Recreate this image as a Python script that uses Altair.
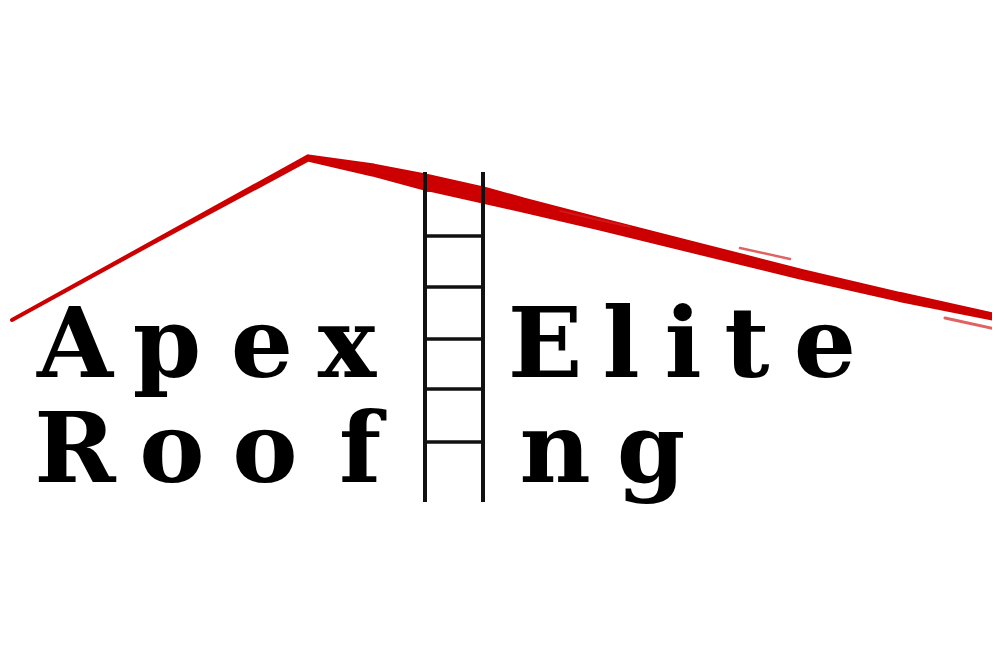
import pandas as pd
import altair as alt

# logo geometry, in page pixels (x right, y down)
roof_x = [12, 150, 308, 373, 425, 483, 523, 600, 700, 800, 900, 1000]
roof_y = [320, 244, 158, 170, 182, 195, 205, 224, 249, 274, 297, 318]
roof_w = [4, 4.5, 7, 13, 17, 17, 15, 13, 12, 11, 10, 8]

# loose brush strokes beside the main roof line
fringe_id = ["a", "a", "b", "b", "c", "c"]
fringe_x = [560, 630, 740, 790, 945, 1000]
fringe_y = [211, 227, 248, 259, 318, 330]
fringe_w = [2, 2, 2.5, 2.5, 3, 3]

rail_x = [425, 483]
rail_top, rail_bottom = 172, 502
rung_y = [190, 236, 287, 339, 389, 442]

row1_letters = list("Apex") + list("Elite")
row1_x = [75, 167, 262, 347, 545, 621, 683, 747, 825]
row2_letters = list("Roof") + list("ng")
row2_x = [75, 172, 265, 360, 555, 651]
baselines = [377, 482]

W, H = 984, 651
X = alt.X("x:Q", scale=alt.Scale(domain=[8, 8 + W]), axis=None)
Y = alt.Y("y:Q", scale=alt.Scale(domain=[8, 8 + H], reverse=True), axis=None)

roof = pd.DataFrame({"x": roof_x, "y": roof_y, "w": roof_w})
fringe = pd.DataFrame({"id": fringe_id, "x": fringe_x, "y": fringe_y, "w": fringe_w})
rails = pd.DataFrame({"x": rail_x, "y": [rail_top] * 2, "y2": [rail_bottom] * 2})
rungs = pd.DataFrame({"x": [rail_x[0]] * len(rung_y), "x2": [rail_x[1]] * len(rung_y), "y": rung_y})
letters = pd.DataFrame({
    "t": row1_letters + row2_letters,
    "x": row1_x + row2_x,
    "y": [baselines[0]] * len(row1_x) + [baselines[1]] * len(row2_x),
})

rung_layer = alt.Chart(rungs).mark_rule(color="#111111", strokeWidth=3.5).encode(
    x=X, x2="x2:Q", y=Y
)
roof_layer = alt.Chart(roof).mark_trail(color="#cc0000").encode(
    x=X, y=Y, size=alt.Size("w:Q", scale=None, legend=None)
)
fringe_layer = alt.Chart(fringe).mark_trail(color="#d42020", opacity=0.7).encode(
    x=X, y=Y, detail="id:N", size=alt.Size("w:Q", scale=None, legend=None)
)
rail_layer = alt.Chart(rails).mark_rule(color="#111111", strokeWidth=4).encode(
    x=X, y=Y, y2="y2:Q"
)
text_layer = alt.Chart(letters).mark_text(
    font="DejaVu Serif", fontWeight="bold", fontSize=98,
    align="center", baseline="alphabetic", color="#000000"
).encode(x=X, y=Y, text="t:N")

chart = (
    alt.layer(rung_layer, roof_layer, fringe_layer, rail_layer, text_layer)
    .properties(width=W, height=H, padding=0, background="white",
                autosize=alt.AutoSizeParams(type="none"))
    .configure_view(strokeWidth=0)
)

chart.save("out.html", embed_options={"renderer": "svg", "actions": False})
